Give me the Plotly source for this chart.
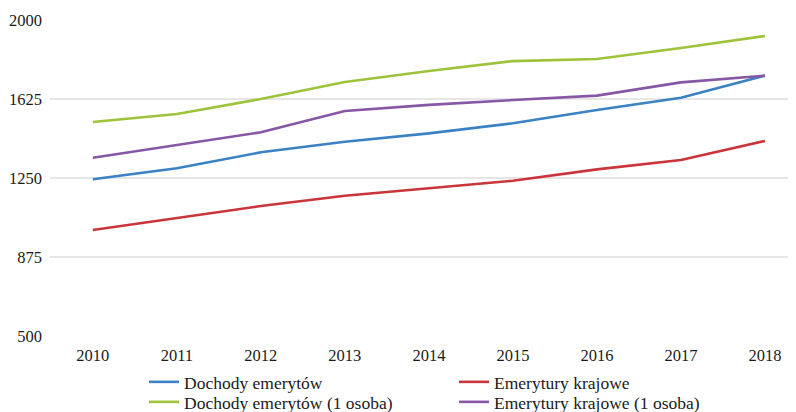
import plotly.graph_objects as go

years = ["2010", "2011", "2012", "2013", "2014", "2015", "2016", "2017", "2018"]
dochody = [1244, 1296, 1372, 1422, 1462, 1510, 1573, 1631, 1736]
emerytury = [1003, 1059, 1117, 1166, 1201, 1237, 1291, 1335, 1426]
dochody_1os = [1516, 1554, 1625, 1706, 1758, 1805, 1815, 1867, 1924]
emerytury_1os = [1346, 1407, 1467, 1568, 1597, 1620, 1641, 1704, 1736]
y_ticks = [500, 875, 1250, 1625, 2000]

series = [
    ("Dochody emerytów", dochody, "#3b82c4", "legend"),
    ("Emerytury krajowe", emerytury, "#c9353a", "legend"),
    ("Dochody emerytów (1 osoba)", dochody_1os, "#9dc33b", "legend2"),
    ("Emerytury krajowe (1 osoba)", emerytury_1os, "#8757a6", "legend2"),
]

fig = go.Figure()
for name, vals, col, lg in series:
    fig.add_trace(go.Scatter(x=years, y=vals, name=name, mode="lines",
                             line=dict(color=col, width=2.6), legend=lg))

tick_font = dict(family="Liberation Serif", size=16.5, color="#1a1a1a")
leg_font = dict(family="Liberation Serif", size=17.5, color="#1a1a1a")
leg_common = dict(orientation="h", yref="container", xref="paper",
                  yanchor="middle", xanchor="left", x=0.126,
                  entrywidth=265, entrywidthmode="pixels",
                  tracegroupgap=0, font=leg_font, bgcolor="rgba(0,0,0,0)",
                  traceorder="normal", itemclick=False, borderwidth=0)
fig.update_layout(
    width=788, height=404,
    margin=dict(l=42, r=0, t=12, b=76),
    paper_bgcolor="white", plot_bgcolor="white",
    font=tick_font,
    showlegend=True,
    legend=dict(y=0.0743, **leg_common),
    legend2=dict(y=0.0248, **leg_common),
    xaxis=dict(type="category", range=[-0.51, 8.37], showgrid=False,
               showline=False, ticks="", zeroline=False, tickfont=tick_font,
               automargin=False, ticklabelstandoff=7),
    yaxis=dict(range=[500, 2000], tickvals=y_ticks, showgrid=True,
               gridcolor="#e6e6e6", gridwidth=1.5, zeroline=False,
               showline=False, ticks="", tickfont=tick_font, automargin=False,
               ticklabelstandoff=7),
)
fig.write_html("out.html")
